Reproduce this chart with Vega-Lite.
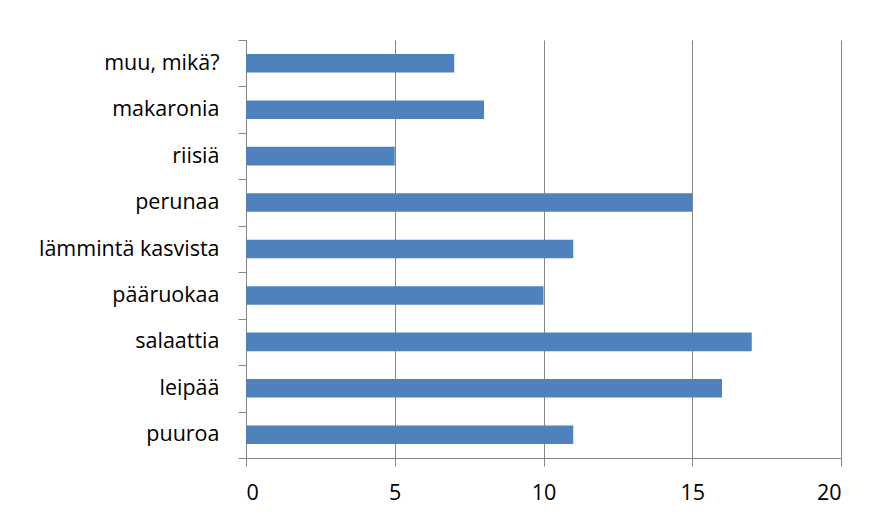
{
  "$schema": "https://vega.github.io/schema/vega-lite/v6.json",
  "width": 595,
  "height": 418,
  "autosize": {"type": "none"},
  "padding": {"left": 246, "top": 40, "right": 28, "bottom": 59},
  "background": "white",
  "config": {
    "view": {"stroke": null},
    "font": "Open Sans"
  },
  "data": {
    "values": [
      {"category": "muu, mikä?", "value": 7},
      {"category": "makaronia", "value": 8},
      {"category": "riisiä", "value": 5},
      {"category": "perunaa", "value": 15},
      {"category": "lämmintä kasvista", "value": 11},
      {"category": "pääruokaa", "value": 10},
      {"category": "salaattia", "value": 17},
      {"category": "leipää", "value": 16},
      {"category": "puuroa", "value": 11}
    ]
  },
  "mark": {"type": "bar", "color": "#4F81BD", "height": {"band": 0.4}},
  "encoding": {
    "y": {
      "field": "category",
      "type": "nominal",
      "sort": null,
      "scale": {"paddingInner": 0, "paddingOuter": 0},
      "axis": {
        "title": null,
        "tickBand": "extent",
        "tickSize": 8,
        "tickColor": "#868686",
        "domainColor": "#868686",
        "labelFontSize": 21.5,
        "labelColor": "#000000",
        "labelPadding": 19,
        "labelLimit": 400,
        "grid": false
      }
    },
    "x": {
      "field": "value",
      "type": "quantitative",
      "scale": {"domain": [0, 20], "nice": false},
      "axis": {
        "title": null,
        "values": [0, 5, 10, 15, 20],
        "tickSize": 8,
        "tickColor": "#868686",
        "domainColor": "#868686",
        "gridColor": "#868686",
        "gridOpacity": 1,
        "labelFontSize": 21.5,
        "labelColor": "#000000",
        "labelPadding": 16,
        "grid": true
      }
    }
  }
}
